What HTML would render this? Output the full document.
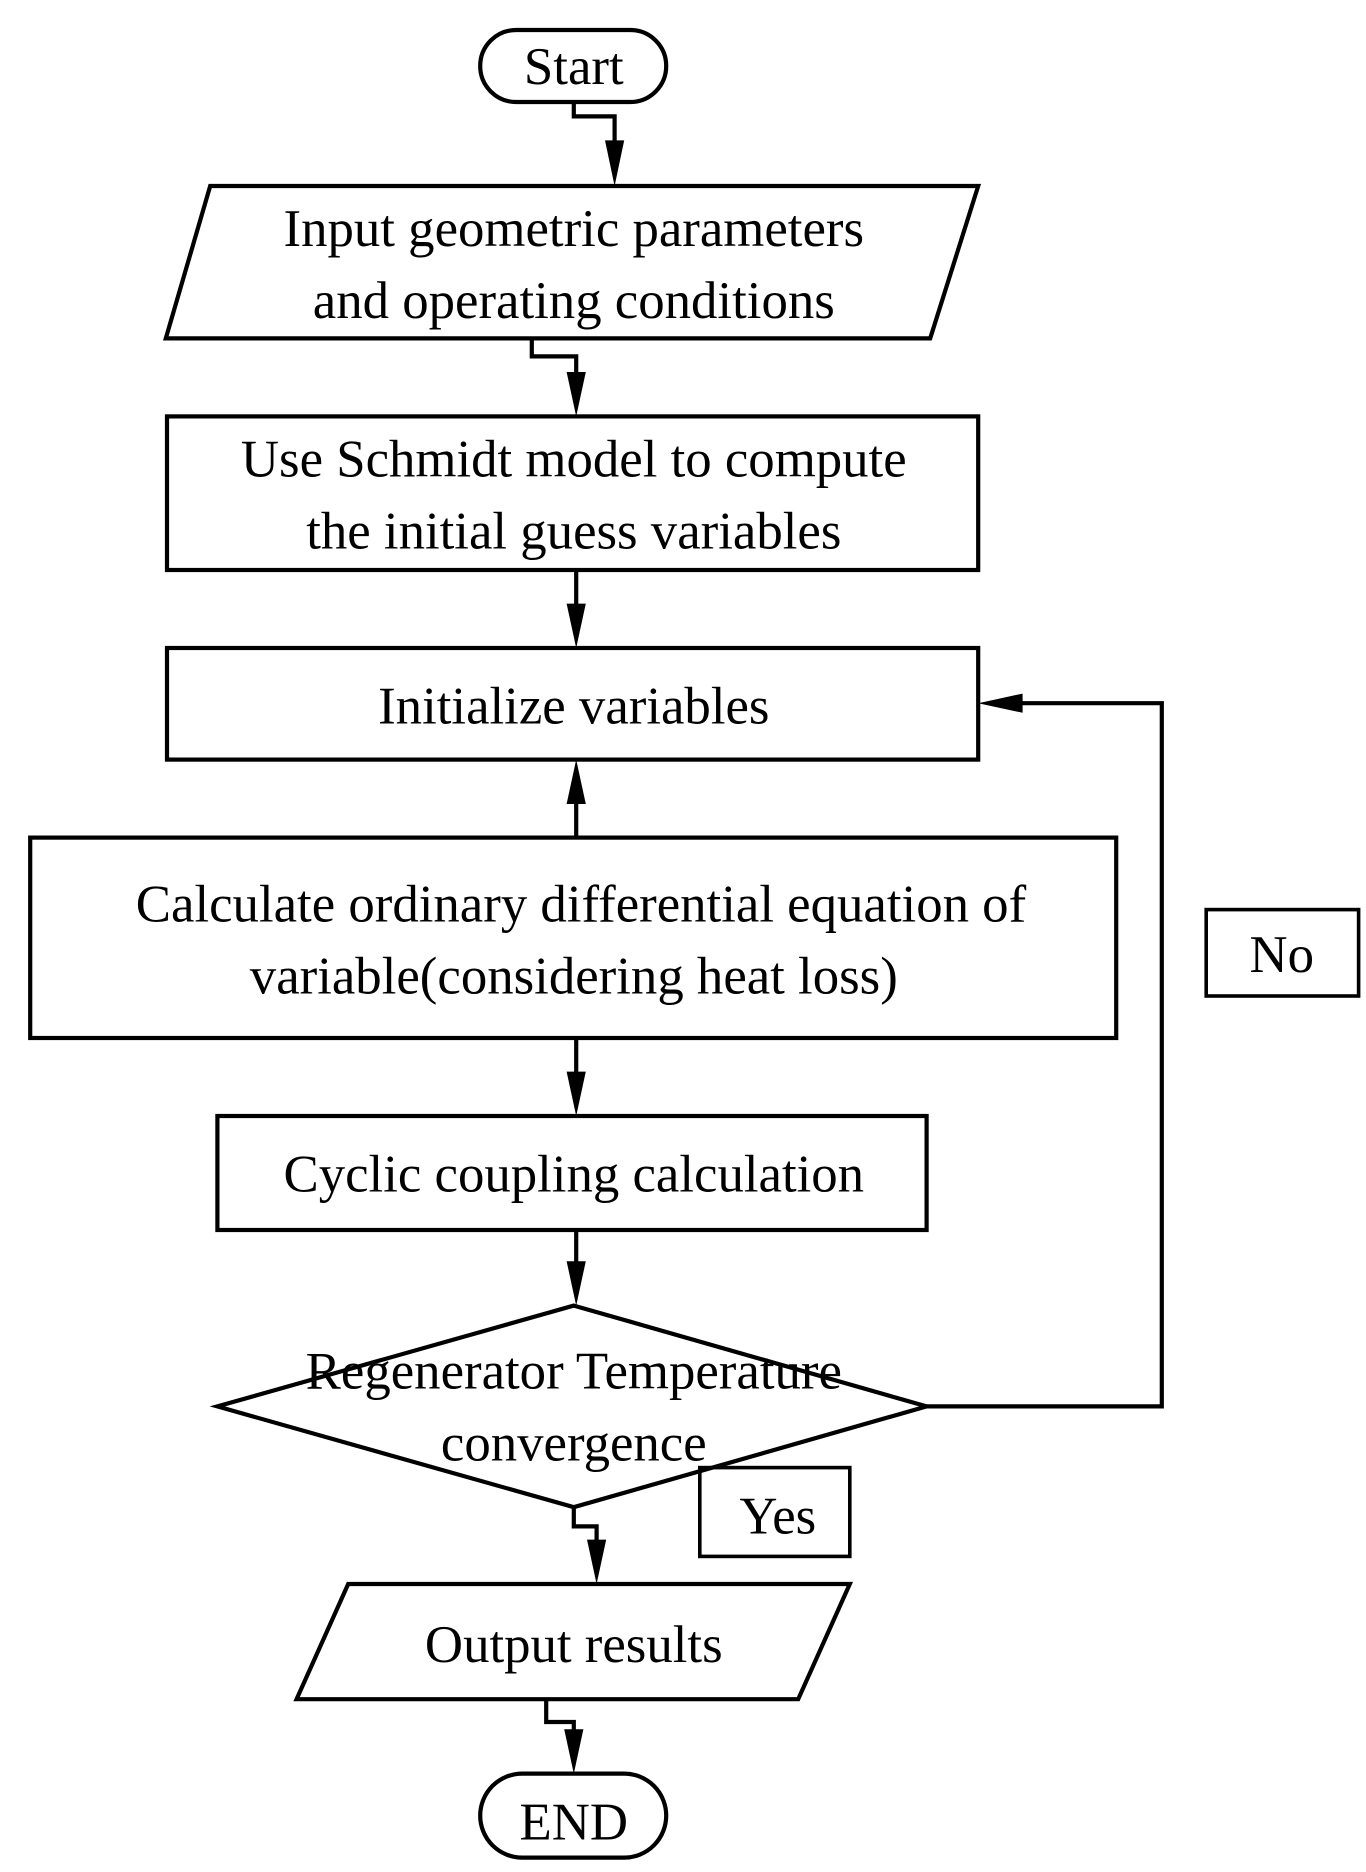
<!DOCTYPE html>
<html><head><style>html,body{margin:0;padding:0;background:#fff}svg{display:block}</style></head>
<body>
<svg width="1366" height="1872" viewBox="0 0 1138 1560" xmlns="http://www.w3.org/2000/svg">
<defs><marker id="a" markerWidth="12" markerHeight="36" refX="6" refY="36" orient="auto-start-reverse" markerUnits="userSpaceOnUse" viewBox="0 0 12 36"><path d="M0,0 L12,0 L6,36 Z" fill="#000" transform="rotate(0)"/></marker></defs>
<g fill="none" stroke="#000" stroke-width="3.5">
<rect x="400" y="25" width="155" height="60" rx="30"/>
<polygon points="175,155 815,155 775,282 138,282"/>
<rect x="139" y="347" width="676" height="128"/>
<rect x="139" y="540" width="676" height="93"/>
<rect x="25" y="698" width="905" height="167"/>
<rect x="181" y="930" width="591" height="95"/>
<polygon points="478,1088 772,1172 478,1256 181,1172"/>
<rect x="1005" y="758" width="127" height="72" stroke-width="3"/>
<rect x="583" y="1223" width="125" height="74" stroke-width="3"/>
<polygon points="290,1320 708,1320 665,1416 247,1416"/>
<rect x="400" y="1478" width="155" height="70" rx="35"/>
<polyline points="478,85 478,97 512,97 512,120"/>
<polyline points="443,282 443,297 480,297 480,312"/>
<line x1="480" y1="475" x2="480" y2="505"/>
<line x1="480" y1="698" x2="480" y2="668"/>
<line x1="480" y1="865" x2="480" y2="895"/>
<line x1="480" y1="1025" x2="480" y2="1053"/>
<polyline points="772,1172 968,1172 968,586 850,586"/>
<polyline points="478,1256 478,1272 497,1272 497,1285"/>
<polyline points="455,1416 455,1435 478,1435 478,1443"/>
</g>
<g fill="#000">
<path d="M504,117 L520,117 L512,155 Z"/>
<path d="M472,310 L488,310 L480,347 Z"/>
<path d="M472,503 L488,503 L480,540 Z"/>
<path d="M472,670 L488,670 L480,633 Z"/>
<path d="M472,893 L488,893 L480,930 Z"/>
<path d="M472,1051 L488,1051 L480,1088 Z"/>
<path d="M852,578 L852,594 L815,586 Z"/>
<path d="M489,1283 L505,1283 L497,1320 Z"/>
<path d="M470,1441 L486,1441 L478,1478 Z"/>
</g>
<g font-family="Liberation Serif, serif" font-size="44" text-anchor="middle" fill="#000">
<text x="478" y="70">Start</text>
<text x="478" y="205">Input geometric parameters</text>
<text x="478" y="265">and operating conditions</text>
<text x="478" y="397">Use Schmidt model to compute</text>
<text x="478" y="457">the initial guess variables</text>
<text x="478" y="603">Initialize variables</text>
<text x="484" y="768">Calculate ordinary differential equation of</text>
<text x="478" y="828">variable(considering heat loss)</text>
<text x="478" y="993">Cyclic coupling calculation</text>
<text x="478" y="1157">Regenerator Temperature</text>
<text x="478" y="1217">convergence</text>
<text x="1068" y="810">No</text>
<text x="648" y="1278">Yes</text>
<text x="478" y="1385">Output results</text>
<text x="478" y="1533">END</text>
</g>
</svg>
</body></html>
